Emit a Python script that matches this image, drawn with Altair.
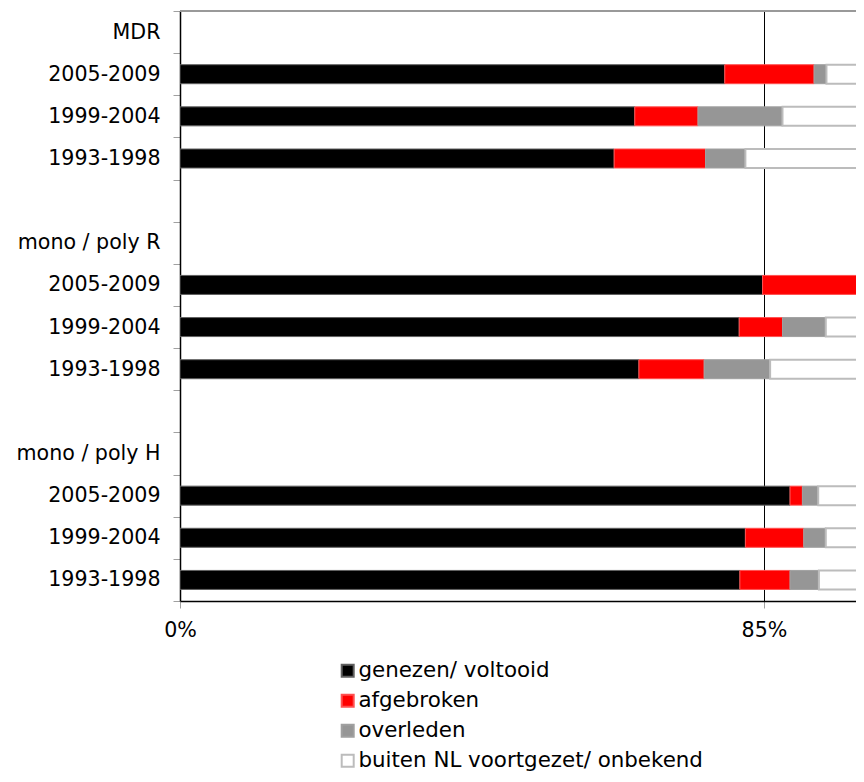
import altair as alt
import pandas as pd

row_labels = ["MDR", "2005-2009", "1999-2004", "1993-1998", "",
              "mono / poly R", "2005-2009", "1999-2004", "1993-1998", "",
              "mono / poly H", "2005-2009", "1999-2004", "1993-1998"]
row_keys = [f"{i:02d}" for i in range(len(row_labels))]

categories = ["genezen/ voltooid", "afgebroken", "overleden",
              "buiten NL voortgezet/ onbekend"]
fill_colors = ["#000000", "#ff0000", "#969696", "#ffffff"]
edge_colors = ["#606060", "#ff5050", "#a0a0a0", "#bcbcbc"]

bar_rows = [1, 2, 3, 6, 7, 8, 11, 12, 13]
genezen = [79.3, 66.2, 63.2, 84.8, 81.4, 66.8, 88.8, 82.3, 81.5]
afgebroken = [13.0, 9.2, 13.3, 15.2, 6.3, 9.5, 1.8, 8.5, 7.3]
overleden = [1.8, 12.3, 5.8, 0.0, 6.3, 9.6, 2.3, 3.2, 4.2]
buiten = [5.9, 12.3, 17.7, 0.0, 6.0, 14.1, 7.1, 6.0, 7.0]

series = [genezen, afgebroken, overleden, buiten]
records = []
for ci, (cat, vals) in enumerate(zip(categories, series)):
    for r, v in zip(bar_rows, vals):
        if v > 0:
            records.append({"key": row_keys[r], "cat": cat, "value": v, "ord": ci})
df = pd.DataFrame(records)

W, H = 676, 590
FONT = "DejaVu Sans"

label_js = "[" + ",".join("'" + s + "'" for s in row_labels) + "][toNumber(datum.value)]"

bars = alt.Chart(df).mark_bar(size=19, clip=True).encode(
    x=alt.X("value:Q", stack="zero",
            scale=alt.Scale(domain=[0, 98.4], nice=False),
            axis=alt.Axis(title=None, values=[0, 85], labelExpr="datum.value + '%'",
                          labelFlush=False,
                          grid=True, gridColor="#000000", gridWidth=1,
                          domainColor="#000000", domainWidth=1.5,
                          tickColor="#a0a0a0", tickSize=7, labelPadding=12,
                          labelFont=FONT, labelFontSize=20.6, labelColor="#000000")),
    y=alt.Y("key:N",
            scale=alt.Scale(domain=row_keys, paddingInner=0, paddingOuter=0),
            axis=alt.Axis(title=None, labelExpr=label_js, tickBand="extent",
                          domainColor="#000000", domainWidth=1.5,
                          tickColor="#a0a0a0", tickSize=7, labelPadding=13,
                          labelFont=FONT, labelFontSize=20.6, labelColor="#000000",
                          grid=False)),
    color=alt.Color("cat:N", scale=alt.Scale(domain=categories, range=fill_colors),
                    legend=alt.Legend(title=None, orient="none", legendX=157, legendY=649,
                                      symbolType="square", symbolSize=144,
                                      symbolStrokeWidth=2,
                                      labelFont=FONT, labelFontSize=21.4,
                                      labelColor="#000000", labelOffset=0,
                                      labelLimit=0, rowPadding=7, padding=0)),
    stroke=alt.Stroke("cat:N", scale=alt.Scale(domain=categories, range=edge_colors),
                      legend=None),
    strokeWidth=alt.condition(alt.datum.cat == categories[3], alt.value(2), alt.value(1)),
    order=alt.Order("ord:Q"),
)

top_line = alt.Chart(pd.DataFrame({"a": [0]})).mark_rule(color="#999999", strokeWidth=2).encode(
    x=alt.value(0), x2=alt.value(W), y=alt.value(0)
)

chart = alt.layer(top_line, bars).properties(
    width=W, height=H,
    autosize=alt.AutoSizeParams(type="none"),
    padding={"left": 172, "top": 3, "right": 0, "bottom": 173},
).configure_view(stroke=None)

chart.save("out.html", embed_options={"renderer": "svg", "actions": False})
